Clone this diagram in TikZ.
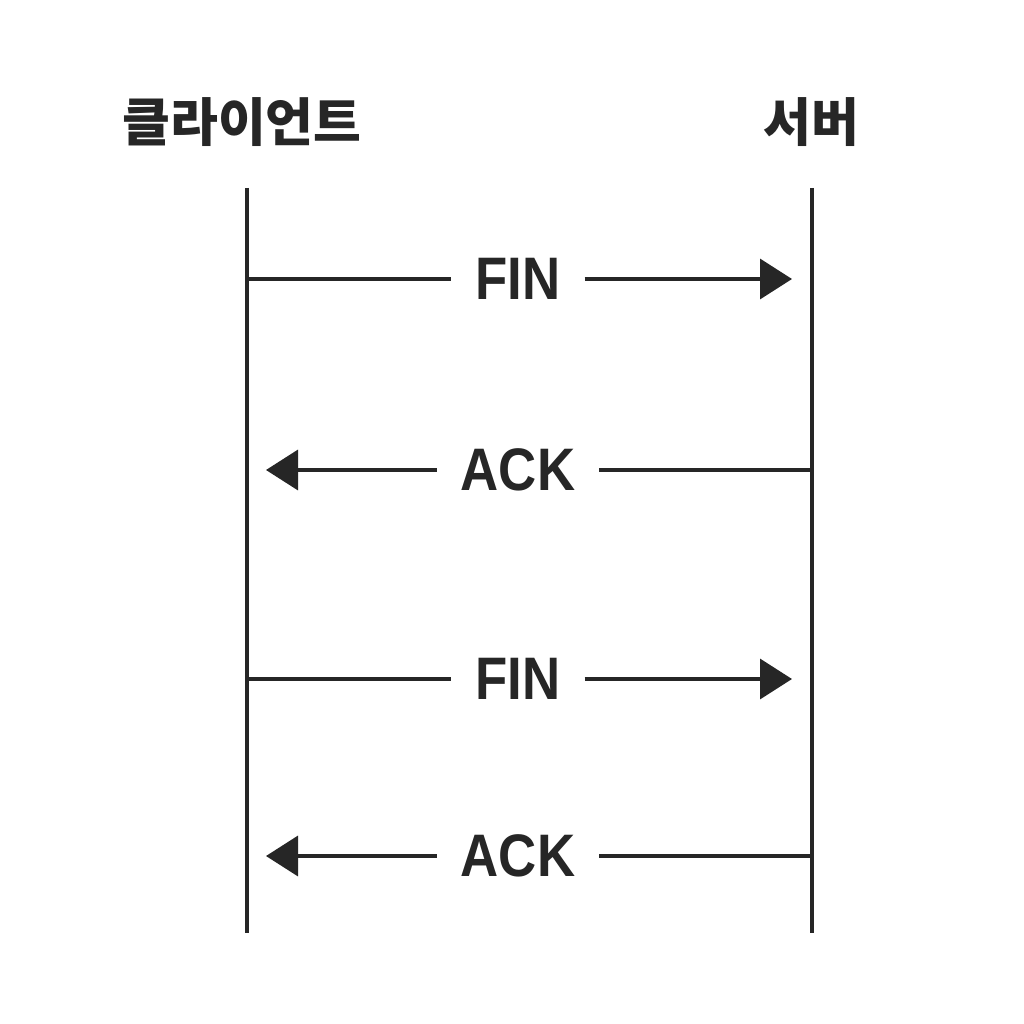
\documentclass[tikz,border=0pt]{standalone}
\usepackage{fontspec}
\usetikzlibrary{arrows.meta}
\newfontfamily\krfont{Noto Sans CJK KR}
\newfontfamily\lblfont{Liberation Sans}[FakeStretch=0.88]
\tikzset{
  lifeline/.style={line width=3.5pt, draw=black!85},
  msgline/.style={line width=3.5pt, draw=black!85},
  msgarrow/.style={msgline, -{Triangle[length=32pt,width=40pt]}},
  lbl/.style={inner xsep=24pt, inner ysep=0pt, text=black!85, font=\lblfont\bfseries\fontsize{60}{60}\selectfont},
  ttl/.style={anchor=base, inner sep=0pt, text=black!85, font=\krfont\bfseries\fontsize{52}{52}\selectfont}
}
\begin{document}
\begin{tikzpicture}[x=1pt,y=-1pt]
\useasboundingbox[fill=white] (0,0) rectangle (1024,1024);
% titles
\node[ttl] (client) at (242,142) {클라이언트};
\node[ttl] (server) at (811,142) {서버};
% lifelines
\coordinate (ctop) at (247,188);
\coordinate (cbot) at (247,933);
\coordinate (stop) at (812,188);
\coordinate (sbot) at (812,933);
\draw[lifeline] (ctop) -- (cbot);
\draw[lifeline] (stop) -- (sbot);
% message 1: FIN
\coordinate (m1a) at (247,279);
\coordinate (m1b) at (792,279);
\node[lbl] (fin1) at (518,279) {FIN};
\draw[msgline] (m1a) -- (fin1.west);
\draw[msgarrow] (fin1.east) -- (m1b);
% message 2: ACK
\coordinate (m2a) at (812,470);
\coordinate (m2b) at (266,470);
\node[lbl] (ack1) at (518,470) {ACK};
\draw[msgline] (m2a) -- (ack1.east);
\draw[msgarrow] (ack1.west) -- (m2b);
% message 3: FIN
\coordinate (m3a) at (247,679);
\coordinate (m3b) at (792,679);
\node[lbl] (fin2) at (518,679) {FIN};
\draw[msgline] (m3a) -- (fin2.west);
\draw[msgarrow] (fin2.east) -- (m3b);
% message 4: ACK
\coordinate (m4a) at (812,856);
\coordinate (m4b) at (266,856);
\node[lbl] (ack2) at (518,856) {ACK};
\draw[msgline] (m4a) -- (ack2.east);
\draw[msgarrow] (ack2.west) -- (m4b);
\end{tikzpicture}
\end{document}
